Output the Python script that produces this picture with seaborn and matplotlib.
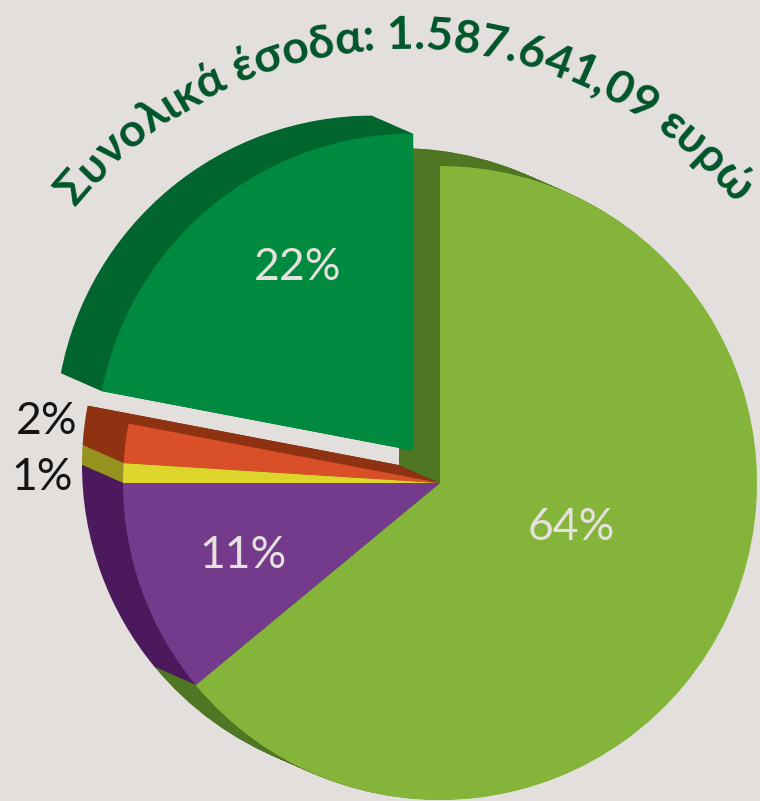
import numpy as np
import matplotlib
matplotlib.use("Agg")
import matplotlib.pyplot as plt
import seaborn as sns
from matplotlib.font_manager import FontProperties

# dữ liệu của biểu đồ
shares = [64, 11, 1, 2, 22]
front_colors = ["#84b53a", "#743a8c", "#ddd52c", "#d95028", "#008a40"]
side_colors = ["#4f7622", "#4c1a5c", "#969220", "#8f3212", "#00662e"]
explode = [0, 0, 0, 0, 42]
inner_labels = ["64%", "11%", "22%"]
inner_pos = [(571, 273), (243, 245), (298, 533)]
outer_labels = ["2%", "1%"]
outer_pos = [(47, 380), (42, 323)]
title = "Συνολικά έσοδα: 1.587.641,09 ευρώ"

W, H = 760, 801
bg = "#e3dfdc"

sns.set_theme(style="white", rc={"figure.facecolor": bg, "axes.facecolor": bg})
plt.rcParams["font.family"] = ["Lato", "DejaVu Sans"]

fig = plt.figure(figsize=(W / 100, H / 100), dpi=100)
ax = fig.add_axes([0, 0, 1, 1])

cx, cy, R = 440, H - 483, 317
dx, dy = -41, 18

# phần "độ dày" 3D: vẽ chồng nhiều lớp tối màu
for t in np.linspace(1, 0.02, 45):
    ax.pie(shares, colors=side_colors, startangle=90, counterclock=False,
           explode=explode, radius=R, center=(cx + dx * t, cy + dy * t),
           wedgeprops=dict(linewidth=0))

# mặt trước
ax.pie(shares, colors=front_colors, startangle=90, counterclock=False,
       explode=explode, radius=R, center=(cx, cy),
       wedgeprops=dict(linewidth=0))

for lab, (x, y) in zip(inner_labels, inner_pos):
    ax.text(x, y, lab, ha="center", va="center", fontsize=32,
            color="#e6e1dd", fontweight="normal")
for lab, (x, y) in zip(outer_labels, outer_pos):
    ax.text(x, y, lab, ha="center", va="center", fontsize=32,
            color="#141414", fontweight="normal")

# tiêu đề cong theo cung tròn
tcx, tcy, Rb = 406, H - 474, 425
a0, a1 = np.radians(139.2), np.radians(41.8)
renderer = fig.canvas.get_renderer()


def width_of(s, fp):
    if not s:
        return 0.0
    return renderer.get_text_width_height_descent(s, fp, ismath=False)[0]


fp = FontProperties(family=["Lato", "DejaVu Sans"], weight="bold", size=30)
centers = [width_of(title[:i + 1], fp) - width_of(ch, fp) / 2
           for i, ch in enumerate(title)]
span = centers[-1] - centers[0]
size = 30 * Rb * (a0 - a1) / span
fp.set_size(size)
for ch, c in zip(title, centers):
    if ch == " ":
        continue
    th = a0 - (c - centers[0]) / span * (a0 - a1)
    ax.text(tcx + Rb * np.cos(th), tcy + Rb * np.sin(th), ch,
            fontproperties=fp, color="#00552a", ha="center", va="baseline",
            rotation=np.degrees(th) - 90, rotation_mode="anchor")

ax.set_xlim(0, W)
ax.set_ylim(0, H)
ax.set_aspect("equal")
ax.axis("off")

fig.savefig("out.png", dpi=100, facecolor=bg)
